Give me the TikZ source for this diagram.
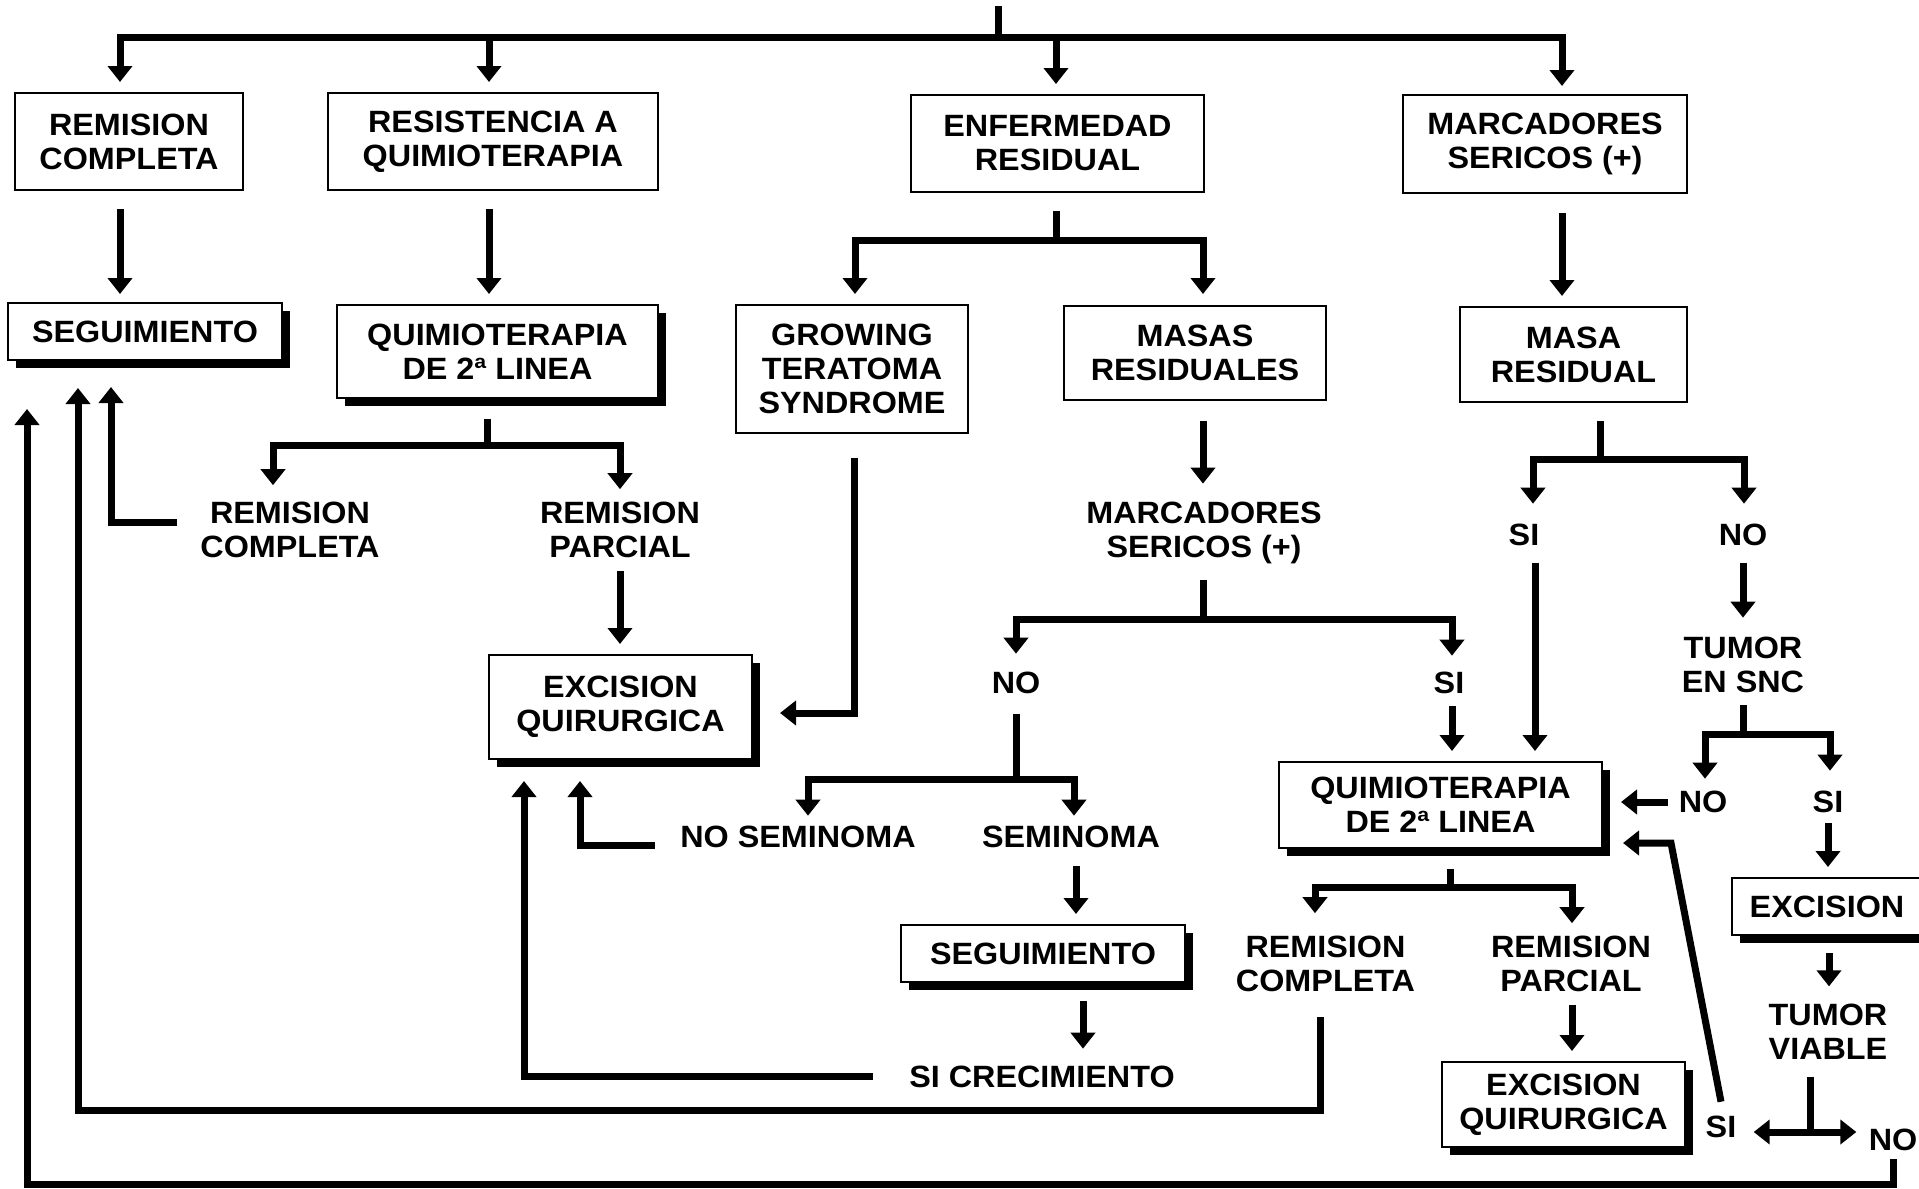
\documentclass[tikz,border=0pt]{standalone}
\usepackage{fontspec}
\setmainfont{Liberation Sans}[FakeStretch=1.05]
\usetikzlibrary{arrows.meta,shadows}

\begin{document}
\begin{tikzpicture}[x=0.5pt,y=-0.5pt,
  every node/.style={font=\fontsize{15.4}{17}\selectfont\bfseries, align=center, inner sep=0pt},
  box/.style={draw, line width=1pt, fill=white},
  sbox/.style={box, drop shadow={shadow xshift=4pt, shadow yshift=-4pt, fill=black, opacity=1}},
  conn/.style={line width=3.5pt},
  arr/.style={conn, -{Triangle[width=12pt,length=8pt]}}
]
\path[use as bounding box, fill=white] (0,0) rectangle (1919,1189);

% ---------- boxes, first row ----------
\node[box, minimum width=114pt, minimum height=48.5pt] (rc1) at (129,141.5) {REMISION\\COMPLETA};
\node[box, minimum width=165pt, minimum height=48.5pt] (res) at (493,141.5) {RESISTENCIA A\\QUIMIOTERAPIA};
\node[box, minimum width=146.5pt, minimum height=48.5pt] (enf) at (1057.5,143.5) {ENFERMEDAD\\RESIDUAL};
\node[box, minimum width=142pt, minimum height=49pt] (mar) at (1545,144) {MARCADORES\\SERICOS (+)};

% ---------- boxes, second row ----------
\node[sbox, minimum width=137pt, minimum height=28.5pt] (seg1) at (145,331.5) {SEGUIMIENTO};
\node[sbox, minimum width=160.5pt, minimum height=46.5pt] (q1) at (497.5,351.5) {QUIMIOTERAPIA\\DE 2ª LINEA};
\node[box, minimum width=116pt, minimum height=64pt] (grow) at (852,369) {GROWING\\TERATOMA\\SYNDROME};
\node[box, minimum width=131pt, minimum height=47pt] (masas) at (1195,353) {MASAS\\RESIDUALES};
\node[box, minimum width=113.5pt, minimum height=47.5pt] (masa) at (1573.5,354.5) {MASA\\RESIDUAL};

% ---------- lower nodes ----------
\node (rc2) at (290,529.5) {REMISION\\COMPLETA};
\node (rp2) at (620,529.5) {REMISION\\PARCIAL};
\node[sbox, minimum width=131.5pt, minimum height=52pt] (exq1) at (620.5,707) {EXCISION\\QUIRURGICA};
\node (mar2) at (1204,533) {MARCADORES\\SERICOS (+)};
\node (no1) at (1016,683) {NO};
\node (si1) at (1449,683) {SI};
\node (nosem) at (798,837) {NO SEMINOMA};
\node (sem) at (1071,837) {SEMINOMA};
\node[sbox, minimum width=142pt, minimum height=28.5pt] (seg2) at (1043,953.5) {SEGUIMIENTO};
\node (sicrec) at (1042,1077) {SI CRECIMIENTO};
\node (si2) at (1524,535) {SI};
\node (no2) at (1743,535) {NO};
\node (tsnc) at (1743,665) {TUMOR\\EN SNC};
\node (no3) at (1703,802) {NO};
\node (si3) at (1828,802) {SI};
\node[sbox, minimum width=161.5pt, minimum height=43pt] (q2) at (1440.5,805) {QUIMIOTERAPIA\\DE 2ª LINEA};
\node (rc3) at (1325.5,963.5) {REMISION\\COMPLETA};
\node (rp3) at (1571,963.5) {REMISION\\PARCIAL};
\node[sbox, minimum width=121.5pt, minimum height=42.5pt] (exq2) at (1563.5,1104.5) {EXCISION\\QUIRURGICA};
\node[sbox, minimum width=95pt, minimum height=28.5pt] (exc) at (1827,906.5) {EXCISION};
\node (tv) at (1828,1031.5) {TUMOR\\VIABLE};
\node (si4) at (1721,1127) {SI};
\node (no4) at (1893,1140) {NO};

% ---------- junction points ----------
\coordinate (top) at (998,6);
\coordinate (j0) at (998,37);
\coordinate (j1) at (1056,240);
\coordinate (j2) at (487,445);
\coordinate (j3) at (1203,619);
\coordinate (j4) at (1016,779);
\coordinate (j5) at (1600,459);
\coordinate (j6) at (1743,734);
\coordinate (j7) at (1810,1132);
\coordinate (j8) at (1450,887);
\coordinate (k1) at (1671,843);

% ---------- top distribution ----------
\draw[conn] (top) -- (j0);
\draw[arr, shorten >=5pt] (j0) -| (120,0 |- rc1.north);
\draw[arr, shorten >=5pt] (j0) -| (489,0 |- res.north);
\draw[arr, shorten >=5pt] (j0) -| (1056,0 |- enf.north);
\draw[arr, shorten >=4pt] (j0) -| (1562,0 |- mar.north);

% ---------- first row to second row ----------
\draw[arr, shorten <=9pt, shorten >=4pt] (120,0 |- rc1.south) -- (120,0 |- seg1.north);
\draw[arr, shorten <=9pt, shorten >=5pt] (489,0 |- res.south) -- (489,0 |- q1.north);
\draw[conn, shorten <=9pt] (1056,0 |- enf.south) -- (j1);
\draw[arr, shorten >=5pt] (j1) -| (855,0 |- grow.north);
\draw[arr, shorten >=5.5pt] (j1) -| (1203,0 |- masas.north);
\draw[arr, shorten <=9.5pt, shorten >=5pt] (1562,0 |- mar.south) -- (1562,0 |- masa.north);

% ---------- second-line chemotherapy (left) ----------
\draw[conn, shorten <=10pt] (487,0 |- q1.south) -- (j2);
\draw[arr, shorten >=8pt] (j2) -| (273,0 |- rc2.north);
\draw[arr, shorten >=6pt] (j2) -| (620,0 |- rp2.north);
\draw[arr, shorten <=11.5pt, shorten >=13pt] (rc2.west |- 0,522) -| (111,0 |- seg1.south);
\draw[arr, shorten <=6.5pt, shorten >=5pt] (620,0 |- rp2.south) -- (620,0 |- exq1.north);

% ---------- growing teratoma ----------
\draw[arr, shorten <=12pt, shorten >=13.5pt] (854,0 |- grow.south) |- (exq1.east |- 0,713);

% ---------- residual masses ----------
\draw[arr, shorten <=10pt, shorten >=9pt] (1203,0 |- masas.south) -- (1203,0 |- mar2.north);
\draw[conn, shorten <=8pt] (1203,0 |- mar2.south) -- (j3);
\draw[arr, shorten >=9pt] (j3) -| (1016,0 |- no1.north);
\draw[arr, shorten >=8pt] (j3) -| (1452,0 |- si1.north);
\draw[conn, shorten <=10pt] (no1.south) -- (j4);
\draw[arr, shorten >=5pt] (j4) -| (808,0 |- nosem.north);
\draw[arr, shorten >=5pt] (j4) -| (1074,0 |- sem.north);
\draw[arr, shorten <=12.5pt, shorten >=10.5pt] (nosem.west |- 0,845) -| (580,0 |- exq1.south);
\draw[arr, shorten <=9pt, shorten >=5pt] (1076,0 |- sem.south) -- (1076,0 |- seg2.north);
\draw[arr, shorten <=9pt, shorten >=8.5pt] (1083,0 |- seg2.south) -- (1083,0 |- sicrec.north);
\draw[arr, shorten <=18pt, shorten >=10.5pt] (sicrec.west |- 0,1076) -| (524,0 |- exq1.south);
\draw[arr, shorten <=6pt, shorten >=5pt] (1452,0 |- si1.south) -- (1452,0 |- q2.north);

% ---------- residual mass with positive markers ----------
\draw[conn, shorten <=9pt] (1600,0 |- masa.south) -- (j5);
\draw[arr, shorten >=10pt] (j5) -| (1533,0 |- si2.north);
\draw[arr, shorten >=10pt] (j5) -| (1744,0 |- no2.north);
\draw[arr, shorten <=8.5pt, shorten >=5pt] (1535,0 |- si2.south) -- (1535,0 |- q2.north);
\draw[arr, shorten <=8.5pt, shorten >=9.5pt] (no2.south) -- (tsnc.north);
\draw[conn, shorten <=6pt] (tsnc.south) -- (j6);
\draw[arr, shorten >=6pt] (j6) -| (1705,0 |- no3.north);
\draw[arr, shorten >=10pt] (j6) -| (1830,0 |- si3.north);
\draw[arr, shorten <=5pt, shorten >=9pt] (no3.west) -- (q2.east |- no3.west);
\draw[arr, shorten <=5pt, shorten >=5pt] (si3.south) -- (si3.south |- exc.north);
\draw[arr, shorten <=8.5pt, shorten >=8.5pt] (1829,0 |- exc.south) -- (1829,0 |- tv.north);
\draw[conn, shorten <=8.5pt] (1810,0 |- tv.south) -- (j7);
\draw[arr, shorten >=8.5pt] (j7) -- (si4.east |- j7);
\draw[arr, shorten >=6pt] (j7) -- (no4.west |- j7);
\draw[arr, shorten >=10pt] ([yshift=7pt]si4.north) -- (k1) -- (q2.east |- k1);

% ---------- second-line chemotherapy (right) ----------
\draw[conn, shorten <=10pt] (1450,0 |- q2.south) -- (j8);
\draw[arr, shorten >=11pt] (j8) -| (1315,0 |- rc3.north);
\draw[arr, shorten >=6pt] (j8) -| (1572,0 |- rp3.north);
\draw[arr, shorten <=6.5pt, shorten >=5pt] (1572,0 |- rp3.south) -- (1572,0 |- exq2.north);

% ---------- returns to follow-up ----------
\draw[arr, shorten <=12.5pt, shorten >=13.5pt] (1320,0 |- rc3.south) |- (78,1110) -- (78,0 |- seg1.south);
\draw[arr, shorten <=4pt, shorten >=24pt] (no4.south) |- (27,1184) -- (27,0 |- seg1.south);
\end{tikzpicture}
\end{document}
